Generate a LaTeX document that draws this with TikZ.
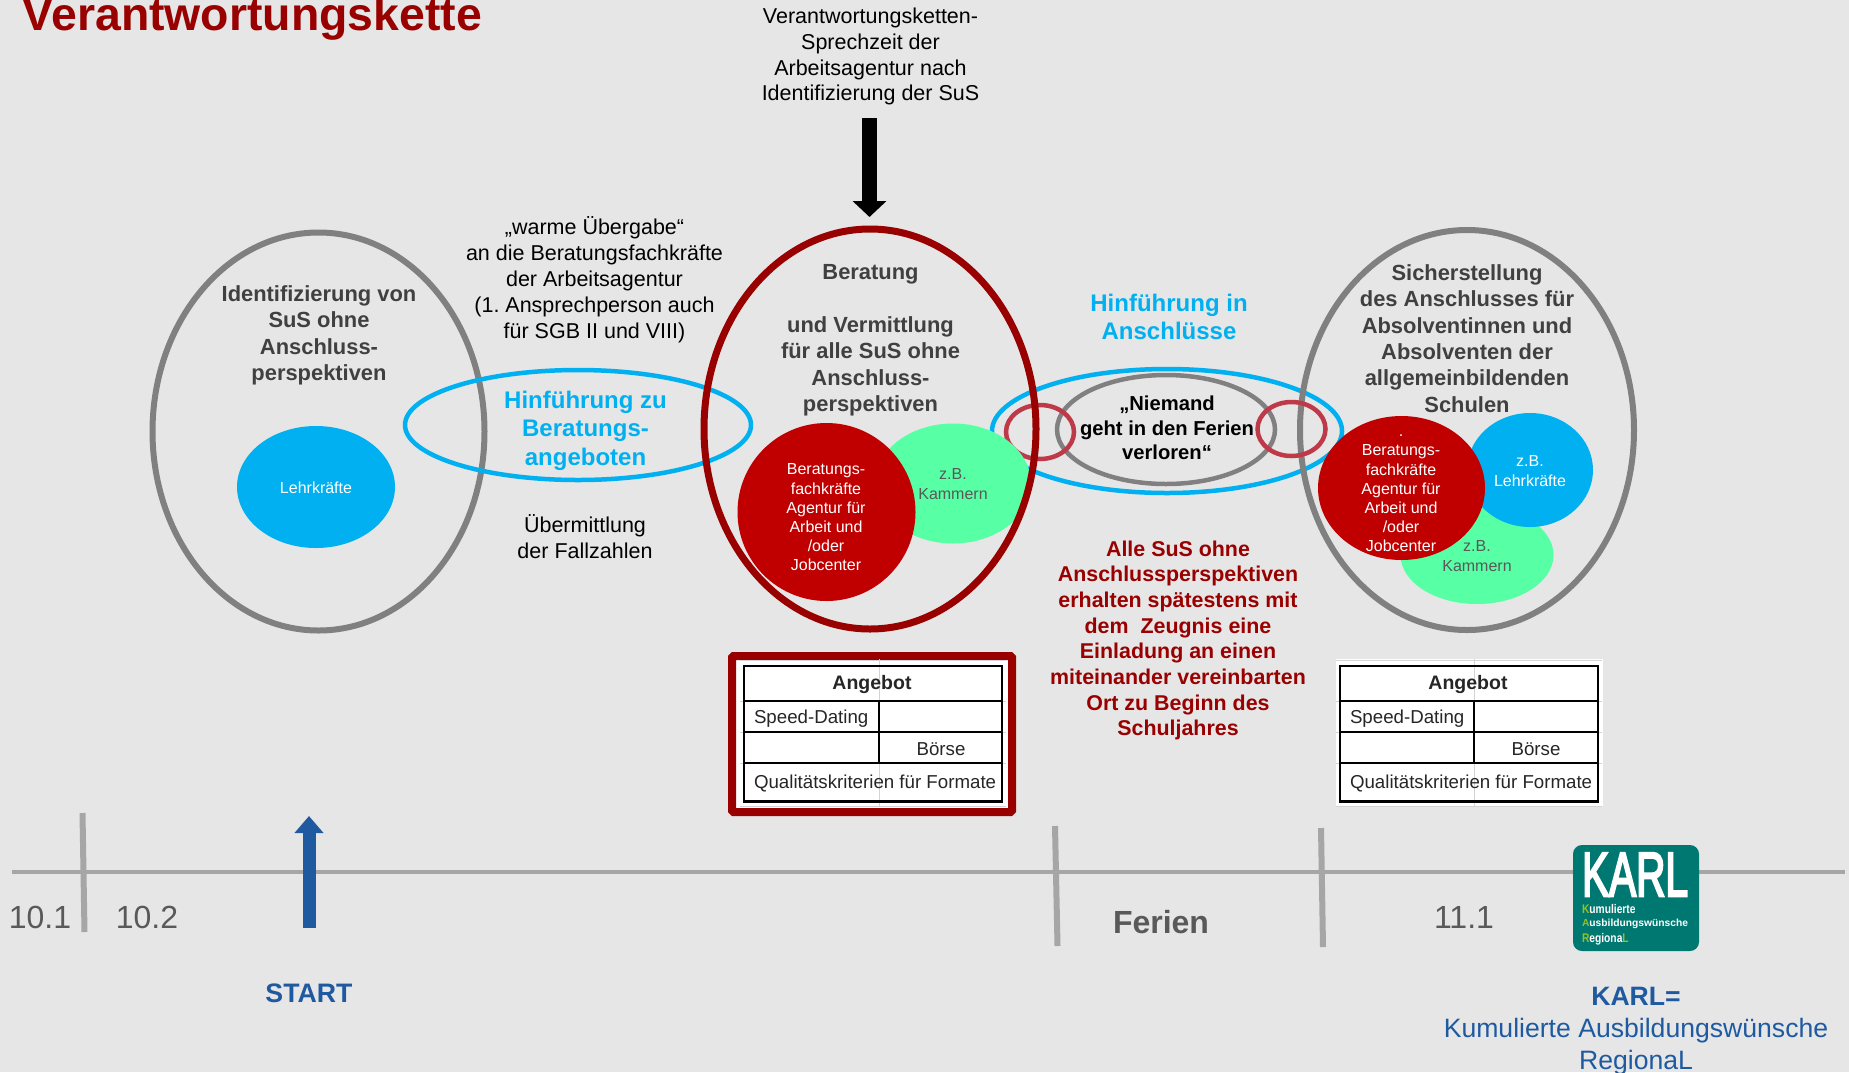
\documentclass[tikz,border=0pt]{standalone}
\usepackage{fontspec}
\usepackage{graphicx}
\setmainfont{Liberation Sans}
\newfontfamily\karlf[FakeBold=4]{Liberation Sans}
\frenchspacing
\usetikzlibrary{arrows.meta}
\definecolor{bg}{HTML}{E6E6E6}
\definecolor{kblue}{HTML}{00B0F0}
\definecolor{kred}{HTML}{C00000}
\definecolor{kdark}{HTML}{990000}
\definecolor{kring}{HTML}{BE3A48}
\definecolor{kgreen}{HTML}{57FFA5}
\definecolor{kgray}{HTML}{808080}
\definecolor{ktext}{HTML}{404040}
\definecolor{kmid}{HTML}{595959}
\definecolor{knavy}{HTML}{1F5AA0}
\definecolor{kteal}{HTML}{007872}
\definecolor{klime}{HTML}{96C11F}
\definecolor{kline}{HTML}{A6A6A6}
\definecolor{kgrid}{HTML}{D4D4D4}
\tikzset{
  x=1pt,y=-1pt,
  every node/.style={inner sep=0pt,outer sep=0pt,align=center},
  ring/.style={draw=#1,line width=4.5pt},
  gring/.style={draw=kgray,line width=6pt},
  body/.style={font=\fontsize{21.5}{25.9}\selectfont,text=black},
  head/.style={font=\fontsize{21.9}{26.4}\selectfont\bfseries,text=ktext},
  small/.style={font=\fontsize{16}{19.2}\selectfont,text=white},
  smallg/.style={font=\fontsize{16}{19.2}\selectfont,text=kmid},
  bluehead/.style={font=\fontsize{24}{28.6}\selectfont\bfseries,text=kblue},
  cell/.style={font=\fontsize{18.7}{23}\selectfont,text=black!85},
  tick/.style={draw=kline,line width=6pt},
  tl/.style={font=\fontsize{32}{34}\selectfont,text=kmid},
  bigarrow/.style={line width=#1},
  sm/.style={anchor=west,font=\fontsize{12.5}{14}\bfseries\selectfont,text=white},
}
\newcommand{\angebot}[3]{%
  % #1 prefix, #2 left x, #3 mid x
  \pgfmathsetmacro{\xr}{#2+258}
  \foreach \yy in {660,701,732,763,806}{\draw[kgrid,line width=.8pt] (#2-4,\yy)--(\xr+4,\yy);}
  \draw[kgrid,line width=.8pt] (#3,659)--(#3,806);
  \draw[black,line width=1.5pt] (#2,701)--(\xr,701) (#2,732)--(\xr,732) (#3,701)--(#3,763);
  \draw[black,line width=2.4pt] (#2,666) rectangle (\xr,801.5);
  \draw[black,line width=2.4pt] (#2,701)--(\xr,701) (#2,763)--(\xr,763);
  \node[cell,font=\fontsize{19.5}{23}\selectfont\bfseries] (#1a) at (#2+128,684.5) {Angebot};
  \node[cell,anchor=west] (#1b) at (#2+10,718.5) {Speed-Dating};
  \node[cell] (#1c) at (#3+62,749.5) {Börse};
  \node[cell,anchor=west] (#1d) at (#2+10,783.5) {Qualitätskriterien für Formate};
}
\begin{document}
\begin{tikzpicture}
\useasboundingbox (0,0) rectangle (1849,1072);
\fill[bg] (0,0) rectangle (1849,1072);

\node[anchor=west,font=\fontsize{46.4}{50}\selectfont\bfseries,text=kdark] (title) at (23,19) {Verantwortungskette};

% left group
\draw[gring] (318.5,431.5) ellipse [x radius=166,y radius=199];
\fill[kblue] (316,487) ellipse [x radius=79,y radius=61];
\node[small] (lehr) at (316,487.5) {Lehrkräfte};
\draw[ring=kblue] (578,425) ellipse [x radius=173,y radius=55];
\node[head] (ident) at (319,335.5) {Identifizierung von\\SuS ohne\\Anschluss-\\perspektiven};
\node[body] (warm) at (594.5,280) {„warme Übergabe“\\an die Beratungsfachkräfte\\der Arbeitsagentur\\(1. Ansprechperson auch\\für SGB II und VIII)};
\node[bluehead] (hinf) at (585.5,430.5) {Hinführung zu\\Beratungs-\\angeboten};
\node[body] (ueber) at (585,537) {Übermittlung\\der Fallzahlen};

% top
\node[body] (sprech) at (870.5,56.5) {Verantwortungsketten-\\Sprechzeit der\\Arbeitsagentur nach\\Identifizierung der SuS};
\coordinate (a1) at (869.5,118);
\coordinate (a2) at (869.5,217);
\draw[bigarrow=15pt,-{Triangle[width=33pt,length=16pt]},black] (a1)--(a2);

% right gray and links
\draw[ring=kblue] (1167,431) ellipse [x radius=175,y radius=62];
\draw[gring] (1467,430) ellipse [x radius=167,y radius=200];
\draw[ring=kgray] (1166,429.5) ellipse [x radius=109,y radius=54.5];
\draw[ring=kring] (1040,432) ellipse [x radius=34,y radius=27];
\draw[ring=kring] (1291.5,429) ellipse [x radius=34,y radius=27];

% centre group
\fill[kgreen] (953,483.5) ellipse [x radius=78,y radius=60];
\draw[kdark,line width=7pt] (870,429) ellipse [x radius=166,y radius=200];
\fill[kred] (826.5,512) circle [radius=89];
\node[small] (bera) at (826,517.5) {Beratungs-\\fachkräfte\\Agentur für\\Arbeit und\\/oder\\Jobcenter};
\node[smallg] (kam1) at (953,484) {z.B.\\Kammern};
\node[head] (verm) at (870.5,340.5) {Beratung\\[26.4pt]und Vermittlung\\für alle SuS ohne\\Anschluss-\\perspektiven};

\node[bluehead] (anschl) at (1169,317) {Hinführung in\\Anschlüsse};
\node[font=\fontsize{20.2}{24.6}\selectfont\bfseries] (niem) at (1167,428) {„Niemand\\geht in den Ferien\\verloren“};
\node[font=\fontsize{21.4}{25.7}\selectfont\bfseries,text=kdark] (alle) at (1178,640.5) {Alle SuS ohne\\Anschlussperspektiven\\erhalten spätestens mit\\dem~~Zeugnis eine\\Einladung an einen\\miteinander vereinbarten\\Ort zu Beginn des\\Schuljahres};

% right group
\fill[kgreen] (1477,555) ellipse [x radius=76.5,y radius=49];
\fill[kblue] (1530,470) ellipse [x radius=63,y radius=57];
\fill[kred] (1401.5,488) ellipse [x radius=83.5,y radius=72];
\node[small] (bera2) at (1401,493.5) {.\\Beratungs-\\fachkräfte\\Agentur für\\Arbeit und\\/oder\\Jobcenter};
\node[small] (lehr2) at (1530,471) {z.B.\\Lehrkräfte};
\node[smallg] (kam2) at (1477,556) {z.B.\\Kammern};
\node[head] (sich) at (1467,338.5) {Sicherstellung\\des Anschlusses für\\Absolventinnen und\\Absolventen der\\allgemeinbildenden\\Schulen};

% tables
\draw[kdark,fill=white,line width=8pt,rounded corners=1.5pt] (732,656) rectangle (1012,812);
\angebot{t}{744}{879}
\fill[white] (1336,659) rectangle (1603,806);
\angebot{u}{1340}{1474}

% timeline
\coordinate (l1) at (12,871.5);
\coordinate (l2) at (1845,871.5);
\draw[kline,line width=4pt] (l1)--(l2);
\coordinate (t1a) at (82.5,813); \coordinate (t1b) at (84.5,932);
\coordinate (t2a) at (1055,826); \coordinate (t2b) at (1057.5,946);
\coordinate (t3a) at (1321,828); \coordinate (t3b) at (1323,947);
\draw[tick] (t1a)--(t1b);
\draw[tick] (t2a)--(t2b);
\draw[tick] (t3a)--(t3b);
\node[tl] (n101) at (40,917) {10.1};
\node[tl] (n102) at (147,917) {10.2};
\node[tl,font=\fontsize{32}{34}\selectfont\bfseries] (fer) at (1161,922) {Ferien};
\node[tl] (n111) at (1464,917) {11.1};

\coordinate (b1) at (309,928);
\coordinate (b2) at (309,816);
\draw[bigarrow=13pt,-{Triangle[width=28pt,length=17pt]},knavy] (b1)--(b2);
\node[font=\fontsize{26.7}{30}\selectfont\bfseries,text=knavy] (start) at (309,993) {START};

% KARL logo
\fill[kteal,rounded corners=9pt] (1573,845) rectangle (1699,951);
\node[anchor=west,text=white] (karl) at (1582,874.5) {\resizebox{106pt}{43pt}{\karlf KARL}};
\node[sm] (k1) at (1582,909) {\scalebox{.82}[1]{\textcolor{klime}{K}umulierte}};
\node[sm] (k2) at (1582,924) {\resizebox{106pt}{!}{\textcolor{klime}{A}usbildungswünsche}};
\node[sm] (k3) at (1582,939) {\scalebox{.82}[1]{\textcolor{klime}{R}egiona\textcolor{klime}{L}}};
\node[font=\fontsize{26.6}{32}\selectfont,text=knavy] (kdef) at (1636,1031) {\textbf{KARL=}\\Kumulierte Ausbildungswünsche\\RegionaL};
\end{tikzpicture}
\end{document}
